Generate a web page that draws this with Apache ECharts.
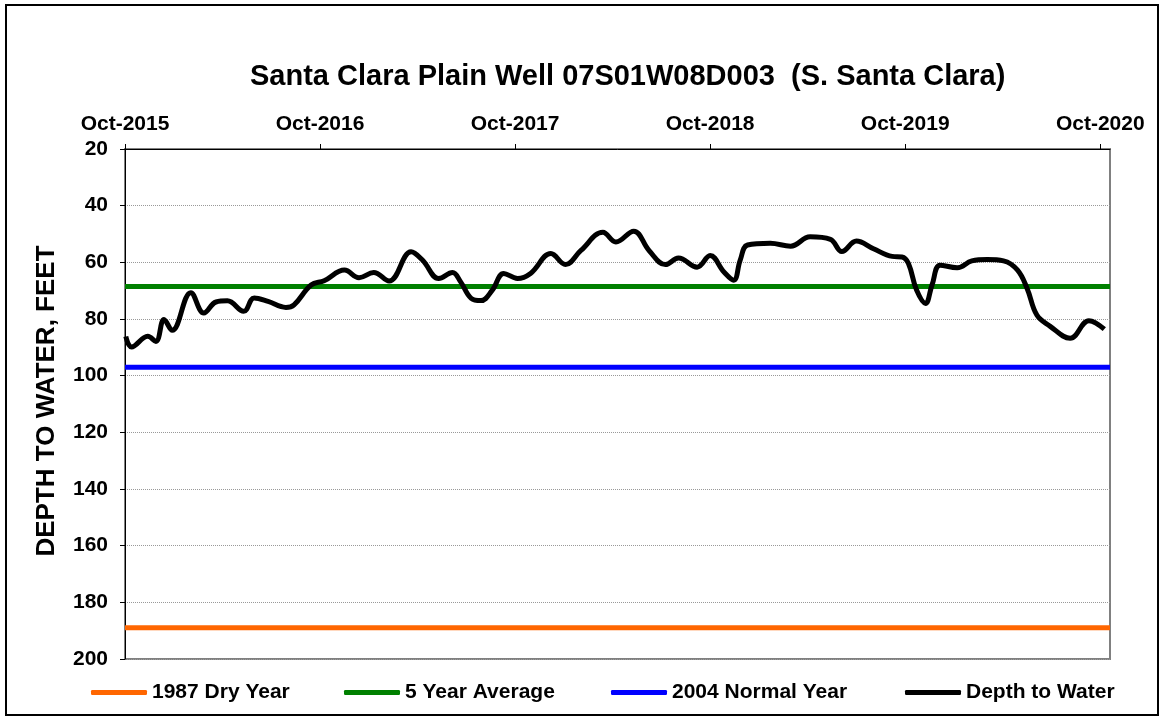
<!DOCTYPE html>
<html lang="en">
  <head>
    <meta charset="UTF-8" />
    <title>Santa Clara Plain Well 07S01W08D003</title>
    <script src="https://cdn.jsdelivr.net/npm/echarts@6/dist/echarts.min.js"></script>
    <style>
      html, body { margin: 0; padding: 0; background: #fff; }
      .echarts { width: 1166px; height: 721px; }
    </style>
  </head>
  <body>
    <div class="echarts"></div>
    <script>
      // months after Oct-2015
      const months = [0.05, 0.4, 1.4, 1.9, 2.4, 2.9, 4.05, 4.85, 5.6, 6.3, 7.3, 7.95,
        8.8, 9.9, 10.4, 11.45, 12.25, 13.5, 14.4, 15.3, 16.25, 17.6, 18.3, 19.3,
        20.15, 20.65, 21.3, 21.9, 22.6, 23.3, 24.15, 24.95, 26.2, 27.1, 28.05, 29.4,
        30.2, 31.3, 32.25, 33.25, 34.05, 35.2, 36.0, 36.85, 37.45, 37.85, 38.3, 39.7,
        40.95, 42.15, 43.4, 44.1, 45.0, 46.05, 47.2, 47.8, 48.2, 48.7, 49.25, 49.65,
        50.15, 51.2, 52.1, 53.05, 54.05, 54.9, 55.5, 56.1, 56.9, 58.15, 59.3, 60.25]
      const depths = [86.2, 89.9, 86.1, 87.9, 80.2, 84, 70.7, 77.9, 74, 73.6, 77.3, 72.6,
        73.8, 75.9, 75, 68, 66.5, 62.7, 65.4, 63.6, 66.6, 56.3, 59.2, 65.7,
        63.6, 66.9, 72.7, 73.5, 69.8, 63.9, 65.7, 63.9, 56.9, 60.8, 55.8, 49.4,
        52.8, 49, 55.9, 60.8, 58.5, 61.7, 57.6, 63.4, 66.3, 59.2, 53.9, 53.3,
        54.3, 51, 51.9, 56.2, 52.5, 55.2, 57.9, 58.1, 60.4, 69.8, 74.5, 68,
        61, 61.9, 59.5, 59, 59.5, 62.7, 69.2, 78.6, 82.5, 86.8, 80.6, 83.6]

      // reference levels
      const refNames = ['1987 Dry Year', '5 Year Average', '2004 Normal Year']
      const refLevels = [189, 68.5, 97]
      const refColors = ['#FF6600', '#008000', '#0000FF']

      // top axis tick labels (every 12 months)
      const tickMonths = [0, 12, 24, 36, 48, 60]
      const tickLabels = ['Oct-2015', 'Oct-2016', 'Oct-2017', 'Oct-2018', 'Oct-2019', 'Oct-2020']

      const xMax = 60.6
      const font = 'Liberation Sans, Arial, sans-serif'

      const myCharts = echarts.init(document.querySelector('.echarts'))

      const series = refNames.map((name, i) => ({
        name: name,
        type: 'line',
        symbol: 'none',
        silent: true,
        data: [[0, refLevels[i]], [xMax, refLevels[i]]],
        lineStyle: { color: refColors[i], width: 5 },
        itemStyle: { color: refColors[i] }
      }))
      series.push({
        name: 'Depth to Water',
        type: 'line',
        symbol: 'none',
        smooth: 0.4,
        data: months.map((m, i) => [m, depths[i]]),
        lineStyle: { color: '#000', width: 5 },
        itemStyle: { color: '#000' }
      })

      const legendNames = refNames.concat(['Depth to Water'])
      const legendLeft = [86, 339, 606, 900]
      const legends = legendNames.map((name, i) => ({
        data: [name],
        left: legendLeft[i],
        top: 677,
        icon: 'roundRect',
        itemWidth: 56,
        itemHeight: 5,
        textStyle: { fontFamily: font, fontWeight: 'bold', fontSize: 21, color: '#000' }
      }))

      const option = {
        animation: false,
        title: {
          text: 'Santa Clara Plain Well 07S01W08D003  (S. Santa Clara)',
          left: 245,
          top: 57,
          textStyle: { fontFamily: font, fontWeight: 'bold', fontSize: 29, color: '#000' }
        },
        legend: legends,
        grid: {
          show: true,
          left: 125,
          right: 56,
          top: 149,
          bottom: 62,
          borderColor: '#808080',
          borderWidth: 2,
          containLabel: false
        },
        xAxis: {
          type: 'value',
          position: 'top',
          min: 0,
          max: xMax,
          interval: 12,
          axisLine: { show: true, lineStyle: { color: '#000', width: 1 } },
          axisTick: { show: true, inside: false, length: 5, customValues: tickMonths, lineStyle: { color: '#000' } },
          axisLabel: {
            customValues: tickMonths,
            margin: 14,
            fontFamily: font,
            fontWeight: 'bold',
            fontSize: 21,
            color: '#000',
            formatter: v => tickLabels[tickMonths.indexOf(Math.round(v))] || ''
          },
          splitLine: { show: false }
        },
        yAxis: {
          type: 'value',
          inverse: true,
          min: 20,
          max: 200,
          interval: 20,
          axisLine: { show: true, lineStyle: { color: '#000', width: 1 } },
          axisTick: { show: true, length: 5, lineStyle: { color: '#000' } },
          axisLabel: {
            margin: 17,
            fontFamily: font,
            fontWeight: 'bold',
            fontSize: 21,
            color: '#000'
          },
          splitLine: { show: true, lineStyle: { color: '#999', type: 'dotted', width: 1 } }
        },
        graphic: [
          {
            type: 'rect',
            silent: true,
            shape: { x: 6, y: 5, width: 1152, height: 710 },
            style: { fill: 'none', stroke: '#000', lineWidth: 2 }
          },
          {
            type: 'text',
            x: 47,
            y: 401,
            rotation: Math.PI / 2,
            style: {
              text: 'DEPTH TO WATER, FEET',
              font: 'bold 26px ' + font,
              fill: '#000',
              align: 'center',
              verticalAlign: 'middle'
            }
          }
        ],
        series: series
      }
      myCharts.setOption(option)
    </script>
  </body>
</html>
